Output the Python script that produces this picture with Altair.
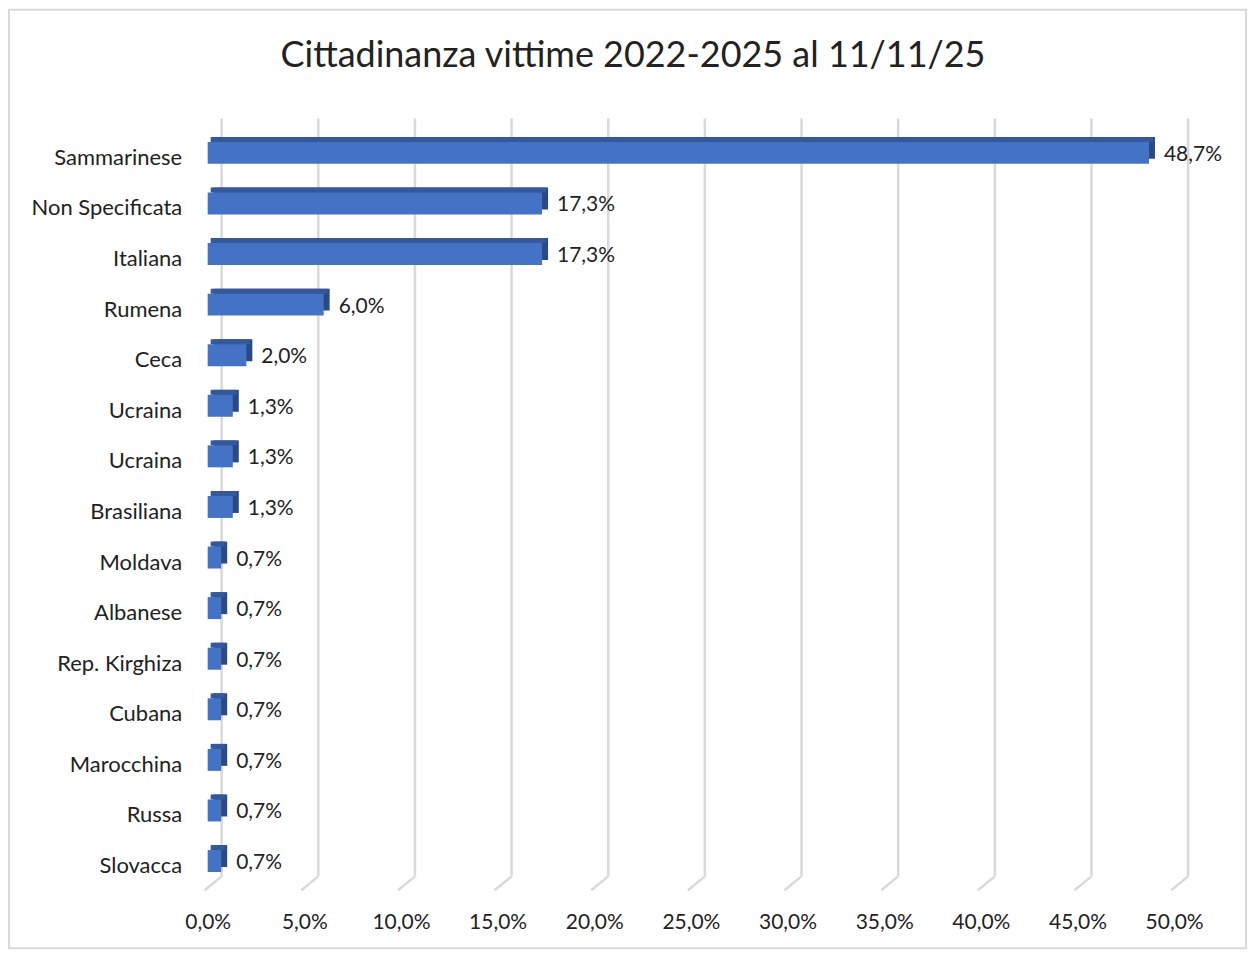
import altair as alt
import pandas as pd

categories = ["Sammarinese", "Non Specificata", "Italiana", "Rumena", "Ceca", "Ucraina",
              "Ucraina", "Brasiliana", "Moldava", "Albanese", "Rep. Kirghiza", "Cubana",
              "Marocchina", "Russa", "Slovacca"]
values = [48.7, 17.3, 17.3, 6.0, 2.0, 1.3, 1.3, 1.3, 0.7, 0.7, 0.7, 0.7, 0.7, 0.7, 0.7]
ticks = [0, 5, 10, 15, 20, 25, 30, 35, 40, 45, 50]
title = "Cittadinanza vittime 2022-2025 al 11/11/25"

FONT = "Lato"
W, H = 968, 760

df = pd.DataFrame({"idx": list(range(len(categories))), "cat": categories, "val": values})
grid_df = pd.DataFrame({"g": ticks})
title_df = pd.DataFrame({"t": [title]})

label_array = "[" + ",".join("'" + c + "'" for c in categories) + "]"

xscale = alt.Scale(domain=[0, 50], nice=False, zero=True)
yscale = alt.Scale(domain=list(range(len(categories))), paddingInner=0.55, paddingOuter=0.275)

base = alt.Chart(df)

y_enc = alt.Y("idx:O", scale=yscale, title=None,
              axis=alt.Axis(labelExpr=label_array + "[datum.value]", labelFont=FONT,
                            labelFontSize=22, labelColor="#222222", labelPadding=26,
                            labelOffset=5, domain=False, ticks=False, grid=False,
                            minExtent=194, maxExtent=194))
x_enc = alt.X("val:Q", scale=xscale, title=None,
              axis=alt.Axis(values=ticks, labelExpr="replace(format(datum.value,'.1f'),'.',',') + '%'",
                            labelFont=FONT, labelFontSize=21, labelColor="#222222", labelFlush=False,
                            labelPadding=25, domain=False, ticks=False, grid=False))

# gridlines (vertical part, shifted back) and slanted floor part
grid_v = alt.Chart(grid_df).mark_rule(color="#D9D9D9", strokeWidth=2.5, xOffset=14, x2Offset=14).encode(
    x=alt.X("g:Q", scale=xscale), y=alt.value(-9), y2=alt.value(H - 10))
grid_s = alt.Chart(grid_df).mark_rule(color="#D9D9D9", strokeWidth=2.5, xOffset=14, x2Offset=-3).encode(
    x=alt.X("g:Q", scale=xscale), x2="g:Q", y=alt.value(H - 10), y2=alt.value(H + 4))

# 3D look: back face (visible as the side), top strip, then the front face
back_face = base.mark_bar(color="#2B4A85", size=22, yOffset=-5, xOffset=6, x2Offset=6).encode(
    y=alt.Y("idx:O", scale=yscale), x=alt.X("val:Q", scale=xscale), x2=alt.datum(0))

top_face = base.mark_bar(color="#34589A", size=5, yOffset=-13.5, xOffset=4, x2Offset=3).encode(
    y=alt.Y("idx:O", scale=yscale), x=alt.X("val:Q", scale=xscale), x2=alt.datum(0))

front = base.mark_bar(color="#4472C4", size=22).encode(
    y=y_enc, x=x_enc, x2=alt.datum(0))

labels = base.mark_text(align="left", baseline="middle", dx=15, dy=2, font=FONT, fontSize=21,
                        color="#222222").encode(
    y=alt.Y("idx:O", scale=yscale), x=alt.X("val:Q", scale=xscale),
    text=alt.Text("lab:N")).transform_calculate(
    lab="replace(format(datum.val,'.1f'),'.',',') + '%'")

title_mark = alt.Chart(title_df).mark_text(font=FONT, fontSize=36, color="#222222",
                                           align="center", baseline="middle").encode(
    x=alt.value(426), y=alt.value(-72), text="t:N")

frame = alt.Chart(pd.DataFrame({"a": [0]})).mark_rect(fill=None, stroke="#D9D9D9", strokeWidth=2).encode(
    x=alt.value(-199), x2=alt.value(1040), y=alt.value(-118), y2=alt.value(822))

chart = alt.layer(frame, grid_v, grid_s, back_face, top_face, front, labels, title_mark).properties(
    width=W, height=H,
    padding=0,
    background="white",
).configure_view(stroke=None)

chart.save("out.html", embed_options={"renderer": "svg", "actions": False})
